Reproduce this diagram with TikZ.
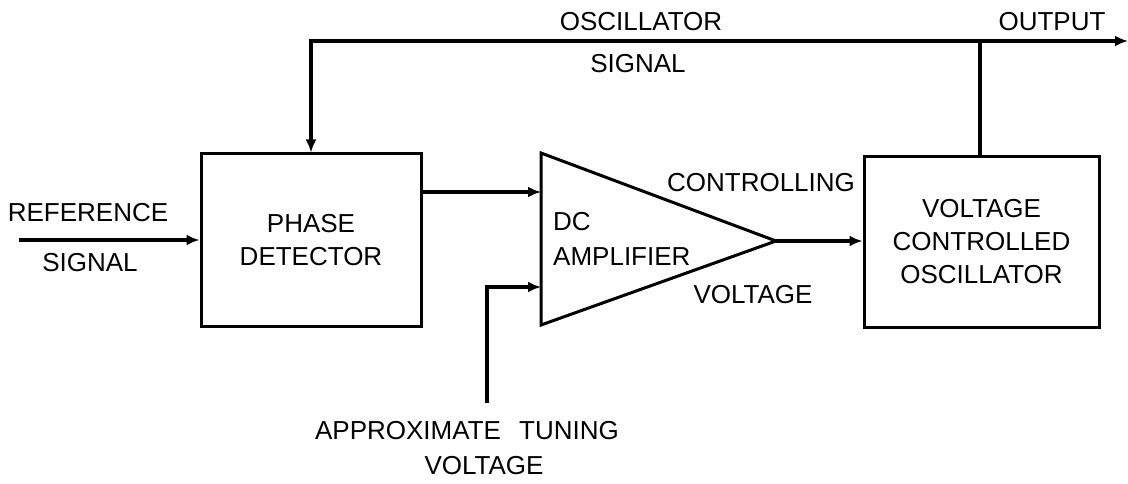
\documentclass[tikz,border=0pt]{standalone}
\usepackage{fontspec}
\setmainfont{Liberation Sans}
\usetikzlibrary{arrows.meta}
\begin{document}
\begin{tikzpicture}[x=1pt,y=-1pt,
  every node/.style={font=\fontsize{26}{33}\selectfont},
  block/.style={draw,line width=3pt,rectangle,inner sep=0pt,align=center},
  lbl/.style={inner sep=0pt,align=center},
  wire/.style={line width=4pt},
  arr/.style={wire,-{Latex[length=13pt,width=11pt]}}]
\useasboundingbox (0,0) rectangle (1128,484);
% blocks
\node[block,minimum width=220pt,minimum height=172pt] (pd) at (311,240) {PHASE\\DETECTOR};
\node[block,minimum width=235pt,minimum height=171pt] (vco) at (981.5,242) {VOLTAGE\\CONTROLLED\\OSCILLATOR};
% amplifier triangle
\coordinate (ampTL) at (541,153);
\coordinate (ampBL) at (541,325);
\coordinate (ampTip) at (776,241);
\coordinate (ampIn1) at (541,192);
\coordinate (ampIn2) at (541,287);
\draw[line width=3pt,line join=miter] (ampTL) -- (ampTip) -- (ampBL) -- cycle;
\node[lbl,anchor=west] (dc) at (553,222) {DC};
\node[lbl,anchor=west] (amp) at (553,257) {AMPLIFIER};
% connectors
\coordinate (refin) at (19,240);
\coordinate (tap) at (980,41);
\coordinate (outend) at (1128,41);
\coordinate (tunein) at (487,403);
\draw[arr] (refin) -- (pd.west);
\draw[arr] (pd.east |- ampIn1) -- (ampIn1);
\draw[arr] (tunein) |- (ampIn2);
\draw[arr] (ampTip) -- (vco.west |- ampTip);
\draw[wire] (vco.north -| tap) -- (tap);
\draw[arr] (tap) -- (outend);
\draw[arr] (tap) -| (pd.north);
% labels
\node[lbl] (osc) at (641,22) {OSCILLATOR};
\node[lbl] (sig1) at (638,64) {SIGNAL};
\node[lbl] (out) at (1052,22) {OUTPUT};
\node[lbl] (ctl) at (761,183) {CONTROLLING};
\node[lbl] (ctv) at (753,295) {VOLTAGE};
\node[lbl] (ref) at (88,213) {REFERENCE};
\node[lbl] (sig2) at (90,263) {SIGNAL};
\node[lbl] (tune) at (467,431) {APPROXIMATE\hspace{0.7em}TUNING};
\node[lbl] (tunev) at (484,466) {VOLTAGE};
\end{tikzpicture}
\end{document}
